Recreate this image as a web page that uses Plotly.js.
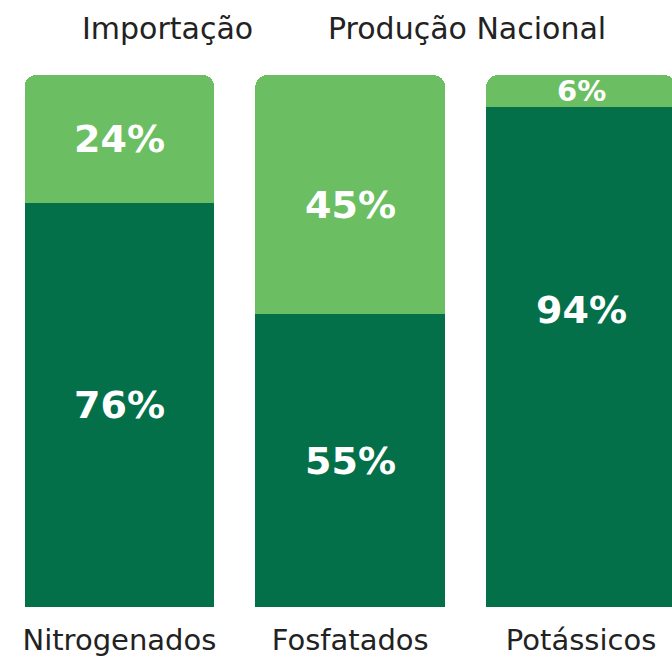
<!DOCTYPE html>
<html>
<head>
<meta charset="utf-8">
<script src="https://cdn.plot.ly/plotly-3.0.1.min.js"></script>
<style>
  html, body { margin: 0; padding: 0; background: #fff; }
  #chart { width: 672px; height: 657px; }
</style>
</head>
<body>
<div id="chart"></div>
<script>
const categories = ['Nitrogenados', 'Fosfatados', 'Potássicos'];
const importacao = [76, 55, 94];
const producaoNacional = [24, 45, 6];
const seriesNames = ['Importação', 'Produção Nacional'];

const darkGreen = '#03704a';
const lightGreen = '#6bbf62';

// the source nudges a couple of labels off the segment centre (pixels)
const importacaoLabelShift = [0, 0, 47];
const producaoLabelShift = [0, -10, 0];

const textFont = { family: 'DejaVu Sans', size: 30, color: '#222222' };

function labelFont(value) {
    // thin segments get a smaller label so it stays inside the bar
    return { family: 'DejaVu Sans', size: value < 10 ? 29 : 38, color: '#ffffff', weight: 'bold' };
}

const traces = [
    {
        type: 'bar',
        name: seriesNames[0],
        x: categories,
        y: importacao,
        marker: { color: darkGreen },
        hoverinfo: 'none'
    },
    {
        type: 'bar',
        name: seriesNames[1],
        x: categories,
        y: producaoNacional,
        marker: { color: lightGreen },
        hoverinfo: 'none'
    }
];

// value labels, centred on each stacked segment
const valueLabels = [];
categories.forEach((cat, i) => {
    valueLabels.push({
        x: cat, y: importacao[i] / 2, yshift: importacaoLabelShift[i],
        value: importacao[i]
    });
    valueLabels.push({
        x: cat, y: importacao[i] + producaoNacional[i] / 2, yshift: producaoLabelShift[i],
        value: producaoNacional[i]
    });
});

const labelAnnotations = valueLabels.map(l => ({
    xref: 'x', yref: 'y',
    x: l.x, y: l.y, yshift: l.yshift,
    text: l.value + '%',
    showarrow: false,
    xanchor: 'center', yanchor: 'middle',
    font: labelFont(l.value)
}));

// legend is plain text above the bars, no swatches
const legendAnnotations = [
    { text: seriesNames[0], x: 76 / 672 },
    { text: seriesNames[1], x: 324 / 672 }
].map(a => ({
    text: a.text,
    xref: 'paper',
    yref: 'paper',
    x: a.x,
    y: 1,
    yshift: 47,
    xanchor: 'left',
    yanchor: 'middle',
    showarrow: false,
    font: textFont
}));

const layout = {
    width: 672,
    height: 657,
    margin: { l: 4, r: 0, t: 75, b: 50 },
    paper_bgcolor: '#ffffff',
    plot_bgcolor: '#ffffff',
    barmode: 'stack',
    bargap: 0.178,
    barcornerradius: 12,
    showlegend: false,
    xaxis: {
        type: 'category',
        range: [-0.5, 2.394],
        showgrid: false,
        zeroline: false,
        showline: false,
        ticks: '',
        ticklabelstandoff: 13,
        tickfont: { family: 'DejaVu Sans', size: 29, color: '#222222' }
    },
    yaxis: {
        range: [0, 100],
        showgrid: false,
        zeroline: false,
        showline: false,
        showticklabels: false,
        ticks: ''
    },
    annotations: labelAnnotations.concat(legendAnnotations)
};

Plotly.newPlot('chart', traces, layout, { displayModeBar: false, staticPlot: true });
</script>
</body>
</html>
